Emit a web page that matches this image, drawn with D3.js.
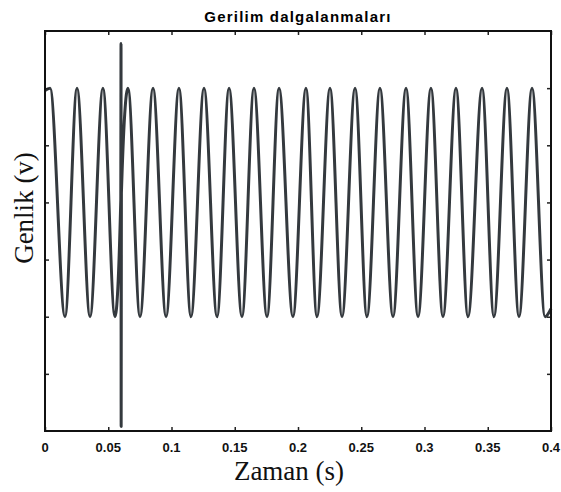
<!DOCTYPE html>
<html>
<head>
<meta charset="utf-8">
<script src="https://cdn.jsdelivr.net/npm/d3@7"></script>
<style>
  html, body { margin: 0; padding: 0; background: #fff; }
  svg { display: block; }
</style>
</head>
<body>
<svg id="chart" width="561" height="492"></svg>
<script>
// values (time in s, amplitude in v)
const peakTimes = [0.0040, 0.0253, 0.0458, 0.0656, 0.0854, 0.1059, 0.1257, 0.1455, 0.1652, 0.1850,
  0.2063, 0.2253, 0.2451, 0.2648, 0.2854, 0.3051, 0.3249, 0.3455, 0.3652, 0.3850];
const troughTimes = [0.0158, 0.0356, 0.0553, 0.0751, 0.0957, 0.1154, 0.1360, 0.1557, 0.1755, 0.1960,
  0.2150, 0.2348, 0.2545, 0.2751, 0.2949, 0.3146, 0.3344, 0.3549, 0.3747, 0.3953];
const peakLevel = 1.0;
const troughLevel = -1.0;
const edgePoints = [[0, 0.98], [0.4, -0.93]];
const spikePoints = [[0.0599, 0.02], [0.0601, 1.39], [0.0602, -1.96], [0.0604, 0.08]];
const xTicks = [0, 0.05, 0.1, 0.15, 0.2, 0.25, 0.3, 0.35, 0.4];
const yTicks = [-1.5, -1, -0.5, 0, 0.5, 1];
const title = 'Gerilim dalgalanmaları';
const xLabel = 'Zaman (s)';
const yLabel = 'Genlik (v)';

const svg = d3.select('#chart');
const margin = { top: 31, right: 10, bottom: 61, left: 45 };
const width = 561, height = 492;
const innerWidth = width - margin.left - margin.right;
const innerHeight = height - margin.top - margin.bottom;

const x = d3.scaleLinear().domain([0, 0.4]).range([margin.left, margin.left + innerWidth]);
const y = d3.scaleLinear().domain([-2, 1.5]).range([margin.top + innerHeight, margin.top]);

const data = [
  ...edgePoints,
  ...peakTimes.map(t => [t, peakLevel]),
  ...troughTimes.map(t => [t, troughLevel]),
  ...spikePoints
].sort((a, b) => a[0] - b[0]);

const line = d3.line()
  .x(d => x(d[0]))
  .y(d => y(d[1]))
  .curve(d3.curveMonotoneX);

svg.append('path')
  .datum(data)
  .attr('fill', 'none')
  .attr('stroke', '#34393e')
  .attr('stroke-width', 3)
  .attr('stroke-linejoin', 'round')
  .attr('d', line);

// inward ticks on all four sides, labels only at the bottom
const bare = a => {
  a.select('.domain').remove();
  a.selectAll('.tick text').remove();
};
svg.append('g').attr('transform', `translate(0,${y(-2)})`)
  .call(d3.axisBottom(x).tickValues(xTicks).tickSize(-4)).call(bare);
svg.append('g').attr('transform', `translate(0,${y(1.5)})`)
  .call(d3.axisTop(x).tickValues(xTicks).tickSize(-4)).call(bare);
svg.append('g').attr('transform', `translate(${x(0)},0)`)
  .call(d3.axisLeft(y).tickValues(yTicks).tickSize(-4)).call(bare);
svg.append('g').attr('transform', `translate(${x(0.4)},0)`)
  .call(d3.axisRight(y).tickValues(yTicks).tickSize(-4)).call(bare);
svg.selectAll('.tick line').attr('stroke', '#222').attr('stroke-width', 1.5);

svg.append('rect')
  .attr('x', x(0)).attr('y', y(1.5))
  .attr('width', x(0.4) - x(0)).attr('height', y(-2) - y(1.5))
  .attr('fill', 'none').attr('stroke', '#111').attr('stroke-width', 2);

svg.selectAll('.xlab')
  .data(xTicks)
  .join('text')
  .attr('class', 'xlab')
  .attr('x', d => x(d))
  .attr('y', y(-2) + 21)
  .attr('text-anchor', 'middle')
  .style('font-family', '"Liberation Sans", Arial, sans-serif')
  .style('font-weight', 'bold')
  .style('font-size', '13px')
  .attr('fill', '#111')
  .text(d => d3.format('')(d));

svg.append('text')
  .attr('x', margin.left + innerWidth / 2).attr('y', 22)
  .attr('text-anchor', 'middle')
  .style('font-family', '"Liberation Sans", Arial, sans-serif')
  .style('font-weight', 'bold').style('font-size', '15px')
  .style('letter-spacing', '1.2px')
  .text(title);

svg.append('text')
  .attr('x', margin.left + innerWidth / 2 - 9).attr('y', 480)
  .attr('text-anchor', 'middle')
  .style('font-family', '"Liberation Serif", "Times New Roman", serif')
  .style('font-size', '27px').attr('fill', '#111')
  .text(xLabel);

svg.append('text')
  .attr('transform', 'translate(33,208) rotate(-90)')
  .attr('text-anchor', 'middle')
  .style('font-family', '"Liberation Serif", "Times New Roman", serif')
  .style('font-size', '27px').attr('fill', '#111')
  .text(yLabel);
</script>
</body>
</html>
